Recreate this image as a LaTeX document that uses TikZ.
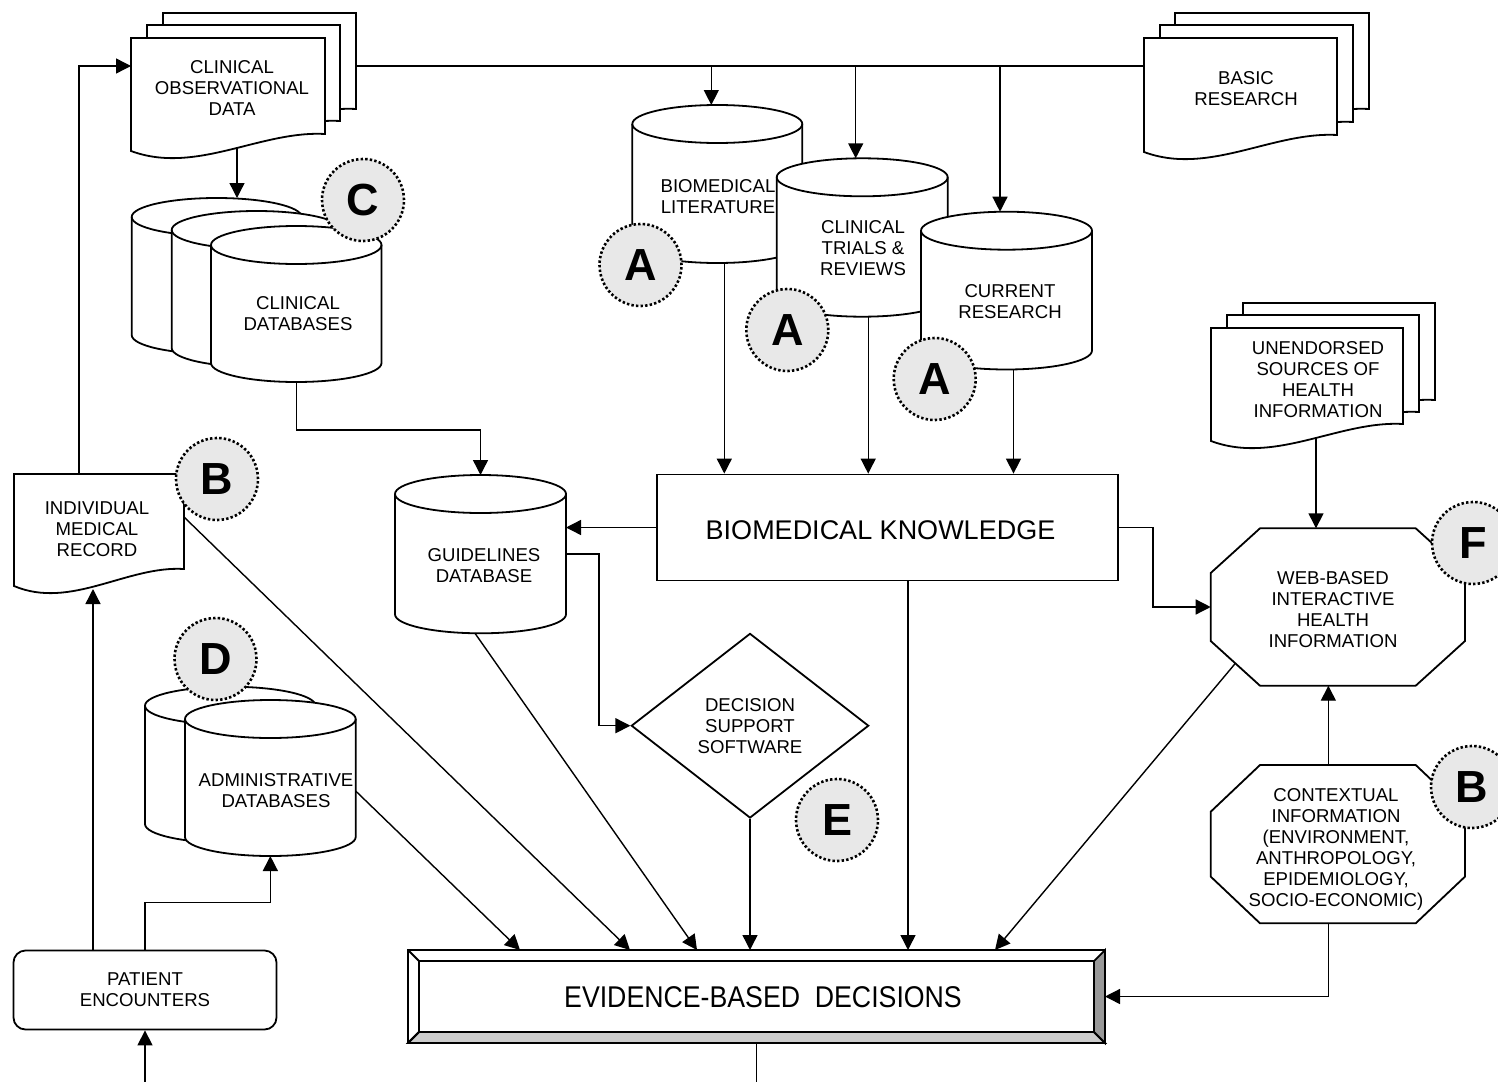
\documentclass[tikz,border=0pt]{standalone}
\usepackage{fontspec}
\usepackage{graphicx}
\setmainfont{Liberation Sans}
\usetikzlibrary{arrows.meta,calc,shapes.geometric}
\definecolor{badgegray}{HTML}{E8E8E8}
\definecolor{bevelright}{HTML}{999999}
\definecolor{bevelbottom}{HTML}{CCCCCC}
\tikzset{
  shp/.style={draw=black, line width=1.8pt, fill=white, line join=miter},
  rim/.style={draw=black, line width=1.8pt},
  conn/.style={draw=black, line width=1.4pt},
  arr/.style={conn, -{Triangle[length=15pt,width=15pt]}},
  box/.style={draw=none, inner sep=0pt, outer sep=0pt},
  txt/.style={align=center, inner sep=0pt, font=\fontsize{18.6}{21}\selectfont},
  badge/.style={circle, minimum size=82pt, inner sep=0pt, fill=badgegray, draw=black,
    line width=2.6pt, dash pattern=on 2.4pt off 2.2pt, font=\fontsize{45}{45}\selectfont\bfseries},
}
% document shape: name L T R B
\newcommand\docshape[5]{%
  \path[shp] (#2,#3) -- (#4,#3) -- (#4,{#5-17})
    .. controls ({#2+2*(#4-#2)/3},{#5-20.6}) and ({#2+(#4-#2)/3},{#5+24}) .. (#2,#5) -- cycle;
  \pgfmathsetmacro\dcw{#4-#2}%
  \pgfmathsetmacro\dch{#5-#3}%
  \node[box, minimum width=\dcw pt, minimum height=\dch pt] (#1) at ({(#2+#4)/2},{(#3+#5)/2}) {};
}
% cylinder: name L T R B
\newcommand\dbshape[5]{%
  \pgfmathsetmacro\dbcx{(#2+#4)/2}%
  \pgfmathsetmacro\dbrx{(#4-#2)/2}%
  \pgfmathsetmacro\dbk{0.5523*\dbrx}%
  \pgfmathsetmacro\dbya{#3+19}%
  \pgfmathsetmacro\dbyb{#5-19}%
  \pgfmathsetmacro\dbyc{#3+38}%
  \pgfmathsetmacro\dbh{#5-#3}%
  \pgfmathsetmacro\dbw{#4-#2}%
  \path[shp] (#2,\dbya) -- (#2,\dbyb)
    .. controls (#2,{\dbyb+10.5}) and ({\dbcx-\dbk},#5) .. (\dbcx,#5)
    .. controls ({\dbcx+\dbk},#5) and (#4,{\dbyb+10.5}) .. (#4,\dbyb)
    -- (#4,\dbya)
    .. controls (#4,{\dbya-10.5}) and ({\dbcx+\dbk},#3) .. (\dbcx,#3)
    .. controls ({\dbcx-\dbk},#3) and (#2,{\dbya-10.5}) .. (#2,\dbya) -- cycle;
  \draw[rim] (#2,\dbya) .. controls (#2,{\dbya+10.5}) and ({\dbcx-\dbk},\dbyc) .. (\dbcx,\dbyc)
    .. controls ({\dbcx+\dbk},\dbyc) and (#4,{\dbya+10.5}) .. (#4,\dbya);
  \node[box, minimum width=\dbw pt, minimum height=\dbh pt] (#1) at (\dbcx,{(#3+#5)/2}) {};
}
% octagon: name L T R B dx dy
\newcommand\octshape[7]{%
  \path[shp] ({#2+#6},#3) -- ({#4-#6},#3) -- (#4,{#3+#7}) -- (#4,{#5-#7}) -- ({#4-#6},#5)
    -- ({#2+#6},#5) -- (#2,{#5-#7}) -- (#2,{#3+#7}) -- cycle;
  \pgfmathsetmacro\ocw{#4-#2}%
  \pgfmathsetmacro\och{#5-#3}%
  \node[box, minimum width=\ocw pt, minimum height=\och pt] (#1) at ({(#2+#4)/2},{(#3+#5)/2}) {};
}
\begin{document}
\begin{tikzpicture}[x=1pt,y=-1pt]
\useasboundingbox (0,0) rectangle (1498,1081);
\fill[white] (0,0) rectangle (1498,1081);

% ---- documents ----
\docshape{cod3}{163}{13}{356}{126}
\docshape{cod2}{147}{25}{340}{138}
\docshape{cod1}{131}{38}{325}{151}
\node[txt] (cod-t) at (232,88) {CLINICAL\\OBSERVATIONAL\\DATA};

\docshape{br3}{1175}{13}{1369}{126}
\docshape{br2}{1160}{25}{1353}{139}
\docshape{br1}{1144}{38}{1337}{152}
\node[txt] (br-t) at (1246,88.5) {BASIC\\RESEARCH};

\docshape{ue3}{1243}{303}{1435}{417}
\docshape{ue2}{1227}{315}{1419}{429}
\docshape{ue1}{1211}{328}{1403}{441}
\node[txt] (ue-t) at (1318,379.5) {UNENDORSED\\SOURCES OF\\HEALTH\\INFORMATION};

\docshape{imr}{14}{474}{184}{586}
\node[txt] (imr-t) at (97,529.5) {INDIVIDUAL\\MEDICAL\\RECORD};

% ---- cylinders ----
\dbshape{cdb3}{131.7}{198}{301.7}{354}
\dbshape{cdb2}{171.7}{211}{341.7}{367}
\dbshape{cdb1}{211}{226}{381.5}{382}
\node[txt] (cdb-t) at (298,313.5) {CLINICAL\\DATABASES};

\dbshape{bl}{632.3}{105}{802.3}{263}
\node[txt] (bl-t) at (718,196.5) {BIOMEDICAL\\LITERATURE};
\dbshape{ct}{776.7}{158.3}{947.7}{316.7}
\node[txt] (ct-t) at (863,248) {CLINICAL\\TRIALS \&\\REVIEWS};
\dbshape{cr}{921}{211.7}{1092}{369.5}
\node[txt] (cr-t) at (1010,301.5) {CURRENT\\RESEARCH};

\dbshape{gdb}{395}{475}{566}{633.3}
\node[txt] (gdb-t) at (484,566) {GUIDELINES\\DATABASE};

\dbshape{adb2}{145}{686.7}{315.5}{843}
\dbshape{adb1}{185}{700}{355.7}{856}
\node[txt] (adb-t) at (276,791) {ADMINISTRATIVE\\DATABASES};

% ---- boxes ----
\node[shp, minimum width=461pt, minimum height=106pt, inner sep=0pt] (bk) at (887.5,527.5) {};
\node[box, font=\fontsize{27}{32}\selectfont] (bk-t) at (880.5,530) {BIOMEDICAL KNOWLEDGE};

\node[shp, txt, rounded corners=12pt, minimum width=263pt, minimum height=79pt] (pe) at (145,990) {PATIENT\\ENCOUNTERS};

\node[shp, txt, diamond, minimum width=237.4pt, minimum height=184.6pt] (ds) at (750,725.7) {DECISION\\SUPPORT\\SOFTWARE};

\octshape{web}{1210.7}{528.3}{1465}{685.7}{49.3}{44.7}
\node[txt] (web-t) at (1333,609.5) {WEB-BASED\\INTERACTIVE\\HEALTH\\INFORMATION};
\octshape{ctx}{1210.7}{765}{1465}{923.3}{49.3}{46.7}
\node[txt] (ctx-t) at (1336,849) {CONTEXTUAL\\INFORMATION\\(ENVIRONMENT,\\ANTHROPOLOGY,\\EPIDEMIOLOGY,\\SOCIO-ECONOMIC)};

% ---- bevelled box ----
\path[shp] (408,950) rectangle (1105,1043);
\path[fill=bevelbottom, rim] (408,1043) -- (1105,1043) -- (1094,1032) -- (419,1032) -- cycle;
\path[fill=bevelright, rim] (1105,950) -- (1105,1043) -- (1094,1032) -- (1094,961) -- cycle;
\draw[rim] (408,950) -- (419,961);
\draw[rim] (408,1043) -- (419,1032);
\draw[rim] (419,961) rectangle (1094,1032);
\node[box, minimum width=697pt, minimum height=93pt] (ebd) at (756.5,996.5) {};
\node[box, font=\fontsize{30}{30}\selectfont] (ebd-t) at (763,997) {\scalebox{0.89}[1]{EVIDENCE-BASED\ \ DECISIONS}};

% ---- connectors ----
\coordinate (ytop) at (0,66);
\draw[conn] (cod3.east |- ytop) -- (br1.west |- ytop);
\coordinate (bl-in) at ($(bl.north)+(-6,0)$);
\draw[arr] (bl-in |- ytop) -- (bl-in);
\coordinate (ct-in) at ($(ct.north)+(-6.5,0)$);
\draw[arr] (ct-in |- ytop) -- (ct-in);
\coordinate (cr-in) at ($(cr.north)+(-6.5,0)$);
\draw[arr] (cr-in |- ytop) -- (cr-in);

\coordinate (cod-out) at ($(cod1.south)+(9,-4)$);
\draw[arr] (cod-out) -- (cod-out |- cdb3.north);
\draw[arr] (cdb1.south) -- ++(0,48) -| (gdb.north);
\draw[arr] ($(imr.north)+(-20,0)$) |- (cod1.west |- ytop);

\coordinate (bl-out) at ($(bl.south)+(7,0)$);
\draw[arr] (bl-out) -- (bl-out |- bk.north);
\coordinate (ct-out) at ($(ct.south)+(6,0)$);
\draw[arr] (ct-out) -- (ct-out |- bk.north);
\coordinate (cr-out) at ($(cr.south)+(7,0)$);
\draw[arr] (cr-out) -- (cr-out |- bk.north);

\draw[arr] (bk.west) -- (bk.west -| gdb.east);
\draw[arr] (gdb.east) -- ++(33,0) |- (ds.west);
\draw[arr] (bk.east) -- ++(34,0) |- (web.west);

\coordinate (ue-out) at ($(ue1.south)+(9,-3)$);
\draw[arr] (ue-out) -- (ue-out |- web.north);
\coordinate (ctx-up) at ($(ctx.north)+(-9.5,0)$);
\draw[arr] (ctx-up) -- (ctx-up |- web.south);
\draw[arr] ($(ctx.south)+(-9.5,0)$) |- (ebd.east);

\coordinate (imr-in) at ($(imr.south)+(-6,3)$);
\draw[arr] (imr-in |- pe.north) -- (imr-in);
\draw[arr] (pe.north) -- ++(0,-47) -| (adb1.south);
\coordinate (pe-src) at ($(pe.south)+(0,52)$);
\draw[arr] (pe-src) -- (pe.south);
\coordinate (ebd-sink) at ($(ebd.south)+(0,40)$);
\draw[conn] (ebd.south) -- (ebd-sink);

\coordinate (e1) at ($(ebd.north west)+(112,0)$);
\coordinate (e2) at ($(ebd.north west)+(222,0)$);
\coordinate (e3) at ($(ebd.north west)+(289,0)$);
\coordinate (e6) at ($(ebd.north west)+(587,0)$);
\draw[arr] ($(adb1.east)+(0,13)$) -- (e1);
\draw[arr] ($(imr.east)+(0,-13)$) -- (e2);
\draw[arr] ($(gdb.south)+(-5.5,0)$) -- (e3);
\draw[arr] (ds.south) -- (ds.south |- ebd.north);
\coordinate (bk-out) at ($(bk.south)+(20.5,0)$);
\draw[arr] (bk-out) -- (bk-out |- ebd.north);
\coordinate (web-sw) at ($(web.south west)+(24.65,-22.35)$);
\draw[arr] (web-sw) -- (e6);

% ---- badges ----
\node[badge] (bC) at (363,200) {C};
\node[badge] (bA1) at (640.5,265) {A};
\node[badge] (bA2) at (787.3,330) {A};
\node[badge] (bA3) at (934.7,379) {A};
\node[badge] (bB1) at (217,479) {B};
\node[badge] (bD) at (215.5,659) {D};
\node[badge] (bE) at (837,820) {E};
\node[badge] (bF) at (1473,543) {F};
\node[badge] (bB2) at (1472,787) {B};
\end{tikzpicture}
\end{document}
